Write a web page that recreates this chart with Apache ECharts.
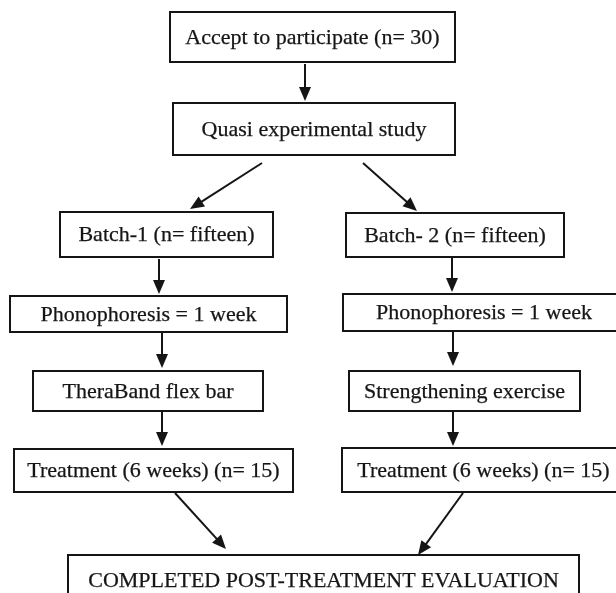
<!DOCTYPE html>
<html>
<head>
<meta charset="utf-8">
<script src="https://cdn.jsdelivr.net/npm/echarts@6/dist/echarts.min.js"></script>
<style>
html,body{margin:0;padding:0;background:#fff;}
#chart{width:616px;height:593px;}
</style>
</head>
<body>
<div id="chart"></div>
<script>
// Flowchart nodes (labels) and their extents in chart units (x: 0-616, y: 0-593 top-down)
const boxLabels = [
  'Accept to participate (n= 30)',
  'Quasi experimental study',
  'Batch-1 (n= fifteen)',
  'Batch- 2 (n= fifteen)',
  'Phonophoresis = 1 week',
  'Phonophoresis = 1 week',
  'TheraBand flex bar',
  'Strengthening exercise',
  'Treatment (6 weeks) (n= 15)',
  'Treatment (6 weeks) (n= 15)',
  'COMPLETED POST-TREATMENT EVALUATION'
];
const boxLeft   = [170, 173,  60, 346,  10, 343,  33, 349,  14, 342,  68];
const boxTop    = [ 12, 103, 212, 213, 296, 294, 371, 371, 449, 448, 555];
const boxRight  = [455, 455, 273, 564, 287, 625, 263, 580, 293, 625, 579];
const boxBottom = [ 62, 155, 257, 257, 332, 331, 411, 411, 492, 492, 605];

// Arrows: start point -> tip point
const arrowX1 = [305, 262, 363, 159, 452, 162, 453, 162, 453, 175, 463];
const arrowY1 = [ 64, 163, 163, 259, 258, 333, 332, 412, 412, 493, 493];
const arrowX2 = [305, 190, 417, 159, 452, 162, 453, 162, 453, 226, 418];
const arrowY2 = [101, 209, 211, 294, 292, 368, 366, 446, 446, 549, 555];

const boxData = boxLabels.map((t, i) => [boxLeft[i], boxTop[i], boxRight[i], boxBottom[i], t]);
const arrowData = arrowX1.map((x, i) => [x, arrowY1[i], arrowX2[i], arrowY2[i]]);

const INK = '#151515';
const chart = echarts.init(document.getElementById('chart'));
chart.setOption({
  animation: false,
  backgroundColor: '#ffffff',
  grid: {left: 0, right: 0, top: 0, bottom: 0},
  xAxis: {type: 'value', min: 0, max: 616, show: false},
  yAxis: {type: 'value', min: 0, max: 593, inverse: true, show: false},
  series: [
    {
      type: 'custom',
      data: boxData,
      clip: false,
      renderItem: function (params, api) {
        const p0 = api.coord([api.value(0), api.value(1)]);
        const p1 = api.coord([api.value(2), api.value(3)]);
        const label = boxLabels[params.dataIndex];
        return {
          type: 'group',
          children: [
            {
              type: 'rect',
              shape: {x: p0[0], y: p0[1], width: p1[0] - p0[0], height: p1[1] - p0[1]},
              style: {fill: '#ffffff', stroke: INK, lineWidth: 2}
            },
            {
              type: 'text',
              x: (p0[0] + p1[0]) / 2,
              y: (p0[1] + p1[1]) / 2 + 1,
              style: {
                text: label,
                fill: INK,
                stroke: INK,
                lineWidth: 0.25,
                font: '22px "Liberation Serif", "Times New Roman", serif',
                align: 'center',
                verticalAlign: 'middle'
              }
            }
          ]
        };
      }
    },
    {
      type: 'custom',
      data: arrowData,
      clip: false,
      renderItem: function (params, api) {
        const a = api.coord([api.value(0), api.value(1)]);
        const b = api.coord([api.value(2), api.value(3)]);
        const dx = b[0] - a[0], dy = b[1] - a[1];
        const len = Math.sqrt(dx * dx + dy * dy);
        const ux = dx / len, uy = dy / len;
        const headLen = 14, headHalf = 6;
        const bx = b[0] - ux * headLen, by = b[1] - uy * headLen;
        return {
          type: 'group',
          children: [
            {
              type: 'line',
              shape: {x1: a[0], y1: a[1], x2: bx + ux * 2, y2: by + uy * 2},
              style: {stroke: INK, lineWidth: 2}
            },
            {
              type: 'polygon',
              shape: {points: [
                [b[0], b[1]],
                [bx - uy * headHalf, by + ux * headHalf],
                [bx + uy * headHalf, by - ux * headHalf]
              ]},
              style: {fill: INK}
            }
          ]
        };
      }
    }
  ]
});
</script>
</body>
</html>
